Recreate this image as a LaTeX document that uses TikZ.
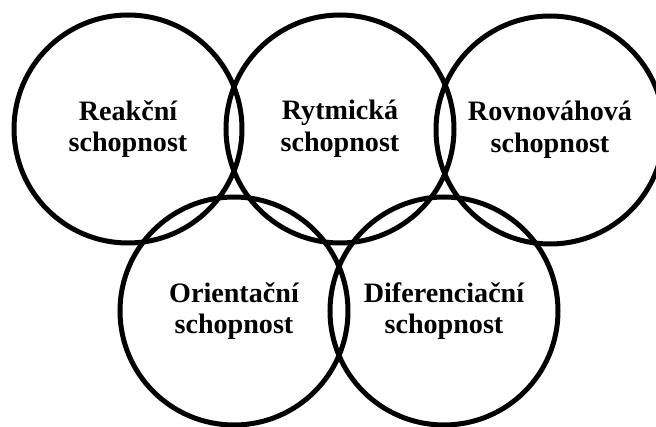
\documentclass[tikz,border=0pt]{standalone}
\usepackage{fontspec}
\setmainfont{Liberation Serif}

\tikzset{ring_style/.style={circle, draw, line width=0.1cm, minimum size=4.56cm, inner sep=0pt, align=center, font=\fontsize{16}{18}\selectfont\bfseries}}

\begin{document}
\begin{tikzpicture}
    \useasboundingbox (0,0) rectangle (13.12,8.54);

    \node[ring_style] (reak) at (2.56,5.96){Reakční\\schopnost};
    \node[ring_style] (rytm) at (6.80,5.96){Rytmická\\schopnost};
    \node[ring_style] (rovn) at (11.00,5.94){Rovnováhová\\schopnost};
    \node[ring_style] (orie) at (4.68,2.32){Orientační\\schopnost};
    \node[ring_style] (dife) at (8.88,2.32){Diferenciační\\schopnost};
    
\end{tikzpicture}
\end{document}
